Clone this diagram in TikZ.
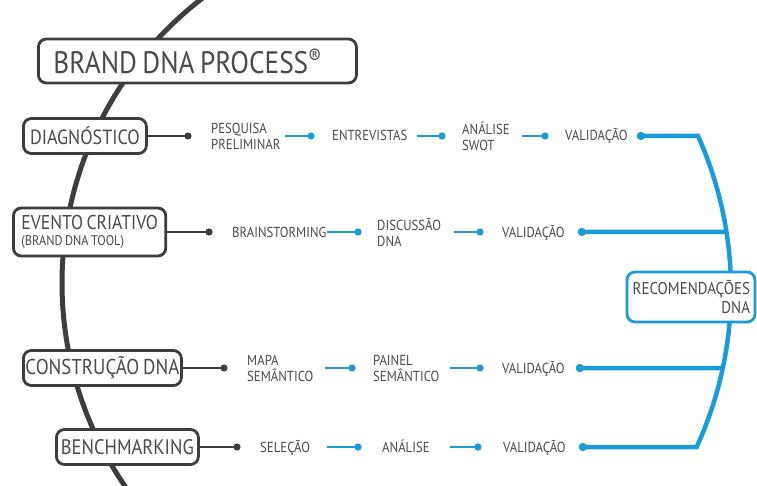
\documentclass[tikz,border=0pt]{standalone}
\usepackage{fontspec}
\setmainfont{PT Sans}[FakeStretch=0.88,WordSpace=0.75]
\usetikzlibrary{positioning,arrows.meta}
\definecolor{ink}{HTML}{3D3D3D}
\definecolor{txt}{HTML}{4A4A4A}
\definecolor{dnablue}{HTML}{1B9BD7}

\begin{document}
\begin{tikzpicture}[x=1pt,y=1pt,
	box/.style={draw=ink,line width=2.8pt,rounded corners=8pt,fill=white,text=txt,inner sep=0pt,minimum height=35pt,anchor=west},
	lbl/.style={text=txt,font=\fontsize{14.5}{16}\selectfont,align=left,anchor=west,inner sep=0pt},
	one/.style={text height=10pt,text depth=0pt},
	twig/.style={draw=ink,line width=2.2pt,-{Circle[length=7pt]},shorten >=19.5pt},
	bud/.style={draw=dnablue,line width=2.8pt,-{Circle[length=7pt]}},
	trunk/.style={draw=dnablue,line width=4.5pt},
	spine/.style={draw=ink,line width=5pt}]
	\useasboundingbox (0,0) rectangle (757,-486);
	
	%the dark spine, behind the boxes
	\coordinate (os) at (421,-283);
	\draw[spine] ([shift={(126:359)}]os) arc[start angle=126,end angle=218,radius=359];
	
	%stages
	\node[box,minimum width=318pt,minimum height=44pt,text width=288pt,inner xsep=15pt,align=flush left,font=\fontsize{31}{36}\selectfont] (title) at (37,-61) {BRAND DNA PROCESS\textsuperscript{®}};
	\node[box,minimum width=123pt,font=\fontsize{20.5}{24}\selectfont] (diag) at (22,-136) {DIAGNÓSTICO};
	\node[box,minimum height=48pt,inner xsep=8pt,align=left,font=\fontsize{20}{16}\selectfont] (evento) at (12,-232) {EVENTO CRIATIVO\\{\fontsize{14}{14}\selectfont (BRAND DNA TOOL)}};
	\node[box,minimum width=158pt,font=\fontsize{21.5}{24}\selectfont] (constr) at (22,-368) {CONSTRUÇÃO DNA};
	\node[box,minimum width=142pt,font=\fontsize{21}{24}\selectfont] (bench) at (55,-447) {BENCHMARKING};
	
	%steps, row by row
	\node[lbl] (pp) at (211,-136) {PESQUISA\\PRELIMINAR};
	\node[lbl,one] (ent) at (332,-136) {ENTREVISTAS};
	\node[lbl] (swot) at (462,-136) {ANÁLISE\\SWOT};
	\node[lbl,one] (v1) at (565,-136) {VALIDAÇÃO};
	
	\node[lbl,one] (brain) at (232,-232) {BRAINSTORMING};
	\node[lbl] (disc) at (377,-232) {DISCUSSÃO\\DNA};
	\node[lbl,one] (v2) at (502,-232) {VALIDAÇÃO};
	
	\node[lbl] (mapa) at (247,-368) {MAPA\\SEMÂNTICO};
	\node[lbl] (painel) at (373,-368) {PAINEL\\SEMÂNTICO};
	\node[lbl,one] (v3) at (502,-368) {VALIDAÇÃO};
	
	\node[lbl,one] (sel) at (260,-447) {SELEÇÃO};
	\node[lbl,one] (ana) at (382,-447) {ANÁLISE};
	\node[lbl,one] (v4) at (503,-447) {VALIDAÇÃO};
	
	%dark links out of the stages
	\draw[twig] (diag) -- (pp);
	\draw[twig] (evento) -- (brain);
	\draw[twig] (constr) -- (mapa);
	\draw[twig] (bench) -- (sel);
	
	%blue links between steps
	\draw[bud,shorten <=4pt,shorten >=17.5pt] (pp) -- (ent);
	\draw[bud,shorten <=9pt,shorten >=16.5pt] (ent) -- (swot);
	\draw[bud,shorten <=12pt,shorten >=16.5pt] (swot) -- (v1);
	\draw[bud,shorten <=0pt,shorten >=15.5pt] (brain) -- (disc);
	\draw[bud,shorten <=13pt,shorten >=18.5pt] (disc) -- (v2);
	\draw[bud,shorten <=11pt,shorten >=17.5pt] (mapa) -- (painel);
	\draw[bud,shorten <=10pt,shorten >=18.5pt] (painel) -- (v3);
	\draw[bud,shorten <=17pt,shorten >=20.5pt] (sel) -- (ana);
	\draw[bud,shorten <=20pt,shorten >=21.5pt] (ana) -- (v4);
	
	%blue trunk gathering the validations
	\coordinate (ob) at (355,-290);
	\coordinate (c1) at ([shift={(24.2:376)}]ob);
	\coordinate (j2) at ([shift={(8.9:376)}]ob);
	\coordinate (j3) at ([shift={(-12:376)}]ob);
	\draw[trunk,{Circle[length=8pt]}-{Circle[length=8pt]},shorten <=9pt,shorten >=13pt] (v1) -- (c1) arc[start angle=24.2,end angle=-24.7,radius=376] -- (v4);
	\draw[trunk,{Circle[length=8pt]}-,shorten <=13pt] (v2) -- (j2);
	\draw[trunk,{Circle[length=8pt]}-,shorten <=11pt] (v3) -- (j3);
	
	\node[box,draw=dnablue,anchor=center,minimum width=128pt,minimum height=50pt,text width=118pt,inner xsep=5pt,align=right,font=\fontsize{17}{19}\selectfont] (rec) at (691,-297) {RECOMENDAÇÕES\\DNA};
\end{tikzpicture}
\end{document}
